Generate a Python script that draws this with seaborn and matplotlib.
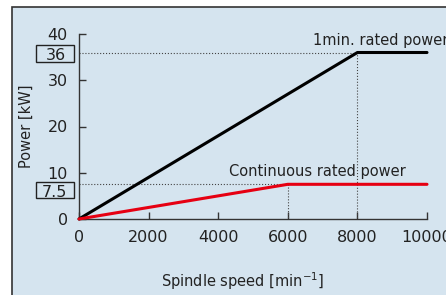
import numpy as np
import pandas as pd
import seaborn as sns
import matplotlib.pyplot as plt
from matplotlib.patches import Rectangle
from matplotlib.transforms import blended_transform_factory

# speed [min^-1] vs power [kW]
speed_1min = [0, 8000, 10000]
power_1min = [0, 36, 36]
speed_cont = [0, 6000, 10000]
power_cont = [0, 7.5, 7.5]
xticks = [0, 2000, 4000, 6000, 8000, 10000]
yticks = [0, 10, 20, 30, 40]

bg = '#d5e4ef'
ink = '#222222'
sns.set_style('ticks')
plt.rcParams['font.family'] = ['DejaVu Sans']

fig = plt.figure(figsize=(4.46, 2.95), dpi=100)
fig.patch.set_facecolor('white')
fig.patches.append(Rectangle((11.5/446, -0.01), 1.0, (295-6.5)/295 + 0.01,
                             transform=fig.transFigure, facecolor=bg,
                             edgecolor='#333333', lw=1.2, zorder=-5))
ax = fig.add_axes([79/446, 1-219/295, 348/446, 185/295])
ax.set_facecolor('none')

df1 = pd.DataFrame({'speed': speed_1min, 'power': power_1min})
df2 = pd.DataFrame({'speed': speed_cont, 'power': power_cont})

# reference dotted lines
ax.plot([0, 8000, 8000], [36, 36, 0], ls=':', color='#444444', lw=0.8, zorder=1)
ax.plot([0, 6000, 6000], [7.5, 7.5, 0], ls=':', color='#444444', lw=0.8, zorder=1)

sns.lineplot(data=df1, x='speed', y='power', color='black', lw=2.2, ax=ax,
             zorder=3, clip_on=False)
sns.lineplot(data=df2, x='speed', y='power', color='#e60012', lw=2.2, ax=ax,
             zorder=4, clip_on=False)

ax.set_xlim(0, 10000)
ax.set_ylim(0, 40)
ax.set_xticks(xticks)
ax.set_yticks(yticks)
ax.tick_params(direction='in', length=5, width=1, color='#333333',
               labelsize=11.5, labelcolor=ink, pad=8)
ax.set_xticklabels([str(t) for t in xticks])
for s in ['top', 'right']:
    ax.spines[s].set_visible(False)
for s in ['left', 'bottom']:
    ax.spines[s].set_color('#333333')
    ax.spines[s].set_linewidth(1.0)

# boxed rated values on the y axis
tr = blended_transform_factory(ax.transAxes, ax.transData)
ax.text(-0.037, 35.4, '36', ha='right', va='center', fontsize=11.5, color=ink,
        transform=tr)
ax.add_patch(Rectangle((-0.1236, 33.9), 0.1092, 3.7, transform=tr, fill=False,
                       edgecolor=ink, lw=1, clip_on=False))
ax.text(-0.035, 5.7, '7.5', ha='right', va='center', fontsize=11.5, color=ink,
        transform=tr)
ax.add_patch(Rectangle((-0.1236, 4.5), 0.1092, 3.6, transform=tr, fill=False,
                       edgecolor=ink, lw=1, clip_on=False))

ax.text(6720, 37.6, '1min. rated power', ha='left', va='baseline', fontsize=10.5,
        color=ink, clip_on=False)
ax.text(4310, 9.3, 'Continuous rated power', ha='left', va='baseline',
        fontsize=10.5, color=ink)

ax.set_xlabel('Spindle speed [min$^{-1}$]', fontsize=10.5, color=ink)
ax.xaxis.set_label_coords(0.471, -0.275)
ax.set_ylabel('Power [kW]', fontsize=10.5, color=ink)
ax.yaxis.set_label_coords(-0.129, 0.5)

fig.savefig('out.png', dpi=100)
